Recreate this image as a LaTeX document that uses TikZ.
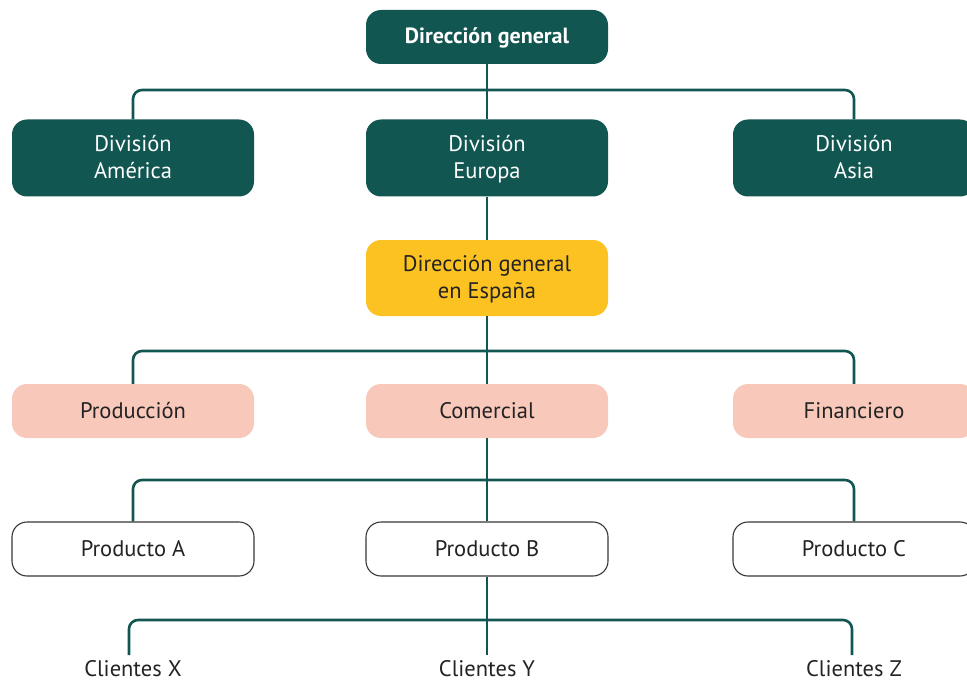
\documentclass[tikz,border=0pt]{standalone}
\usepackage{fontspec}
\setmainfont{PT Sans}
\definecolor{teal}{RGB}{18,86,81}
\definecolor{ylw}{RGB}{252,194,33}
\definecolor{pnk}{RGB}{248,200,187}
\definecolor{txt}{RGB}{35,35,35}
\definecolor{bord}{RGB}{55,55,55}
\newcommand{\mystrut}{\rule[-5pt]{0pt}{24pt}}
\tikzset{
  box/.style={rounded corners=15pt, minimum width=242pt, inner sep=0pt, align=center, font=\fontsize{22.5}{27}\selectfont},
  dark/.style={box, fill=teal, text=white},
  yel/.style={box, fill=ylw, text=txt, minimum height=76pt},
  pink/.style={box, fill=pnk, text=txt, minimum height=54pt},
  white/.style={box, draw=bord, line width=1.1pt, fill=white, text=txt, minimum height=54pt},
  cli/.style={inner sep=0pt, text=txt, font=\fontsize{22.5}{27}\selectfont},
  conn/.style={draw=teal, line width=2.6pt, rounded corners=9pt},
}
\begin{document}
\begin{tikzpicture}[x=1pt,y=-1pt]
\useasboundingbox (0,0) rectangle (967,682);
\coordinate (b1) at (487,90);
\coordinate (b2) at (487,351);
\coordinate (b3) at (487,480);
\coordinate (b4) at (487,620);
\node[dark, minimum height=54pt, font=\fontsize{22}{27}\selectfont\bfseries] (dg) at (487,37) {\mystrut Dirección general};
\node[dark, minimum height=77pt] (amer) at (133,158) {\mystrut División\\\mystrut América};
\node[dark, minimum height=77pt] (eur) at (487,158) {\mystrut División\\\mystrut Europa};
\node[dark, minimum height=77pt] (asia) at (854,158) {\mystrut División\\\mystrut Asia};
\node[yel] (esp) at (487,278) {\mystrut Dirección general\\\mystrut en España};
\node[pink] (prod) at (133,411) {\mystrut Producción};
\node[pink] (com) at (487,411) {\mystrut Comercial};
\node[pink] (fin) at (854,411) {\mystrut Financiero};
\node[white] (pa) at (133,549) {\mystrut Producto A};
\node[white] (pb) at (487,549) {\mystrut Producto B};
\node[white] (pc) at (854,549) {\mystrut Producto C};
\node[cli] (cx) at (133,669) {Clientes X};
\node[cli] (cy) at (487,669) {Clientes Y};
\node[cli] (cz) at (854,669) {Clientes Z};
\coordinate (cxe) at (129,655);
\coordinate (cye) at (487,655);
\coordinate (cze) at (852,655);
\draw[conn] (dg.south) -- (eur.north);
\draw[conn] (amer.north) |- (b1) -| (asia.north);
\draw[conn] (eur.south) -- (esp.north);
\draw[conn] (esp.south) -- (com.north);
\draw[conn] (prod.north) |- (b2) -| (fin.north);
\draw[conn] (com.south) -- (pb.north);
\draw[conn] (pa.north) |- (b3) -| (pc.north);
\draw[conn] (pb.south) -- (cye);
\draw[conn] (cxe) |- (b4) -| (cze);
\end{tikzpicture}
\end{document}
